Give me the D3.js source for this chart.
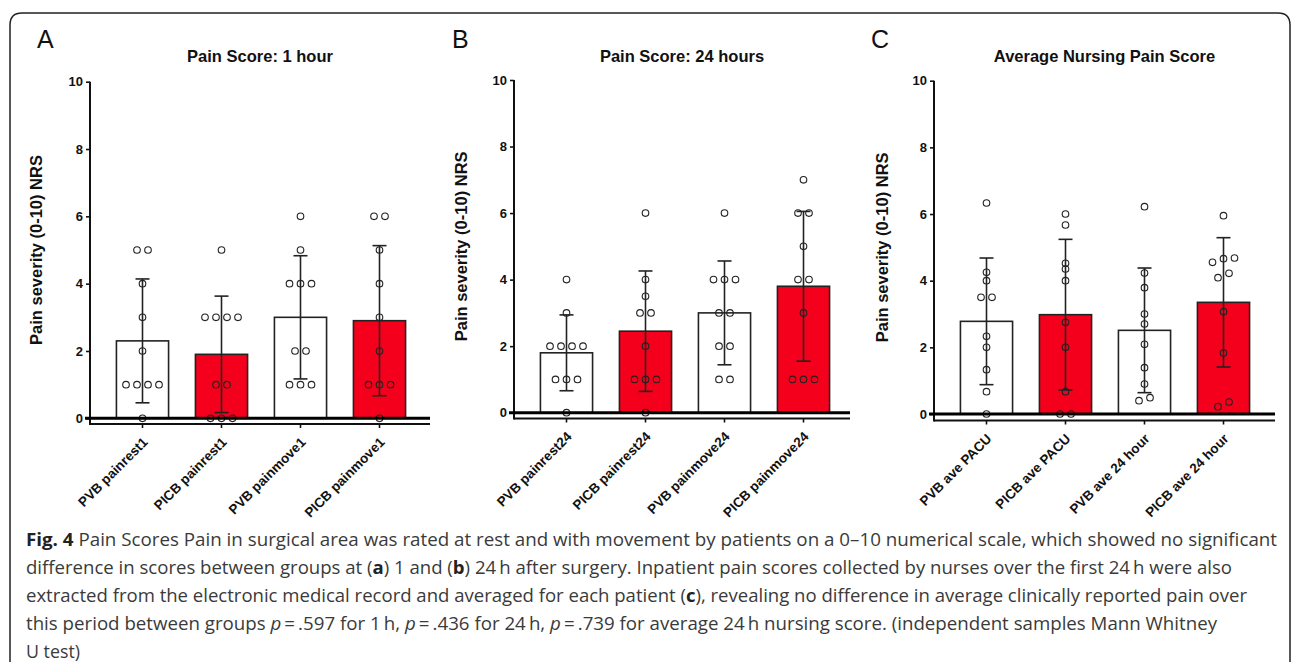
<!DOCTYPE html>
<meta charset="utf-8">
<title>Pain scores</title>
<style>
body { margin: 0; background: #fff; }
svg { display: block; }
.axis-title, .title, .tick-y, .tick-x { font-family: "Liberation Sans", Arial, Helvetica, sans-serif; font-weight: bold; fill: #111; }
.letter { font-family: "Liberation Sans", Arial, Helvetica, sans-serif; fill: #111; }
.caption { font-family: "Open Sans", "Noto Sans", sans-serif; fill: #3a3a3a; }
</style>
<script src="https://d3js.org/d3.v7.min.js"></script>
<body>
<script>
var width = 1292, height = 662;

// ---- data ----
var letters = ["A", "B", "C"];
var titles = ["Pain Score: 1 hour", "Pain Score: 24 hours", "Average Nursing Pain Score"];
var yLabel = "Pain severity (0-10) NRS";
var yTicks = [0, 2, 4, 6, 8, 10];

var catsA = ["PVB painrest1", "PICB painrest1", "PVB painmove1", "PICB painmove1"];
var meanA = [2.3, 1.9, 3.0, 2.9];
var sdA = [1.84, 1.73, 1.83, 2.23];
var ptsA = [
  [5, 5, 4, 3, 2, 1, 1, 1, 1, 0],
  [5, 3, 3, 3, 3, 1, 1, 0, 0, 0],
  [6, 5, 4, 4, 4, 2, 2, 1, 1, 1],
  [6, 6, 5, 4, 3, 2, 1, 1, 1, 0]
];

var catsB = ["PVB painrest24", "PICB painrest24", "PVB painmove24", "PICB painmove24"];
var meanB = [1.8, 2.45, 3.0, 3.8];
var sdB = [1.14, 1.81, 1.56, 2.25];
var ptsB = [
  [4, 3, 2, 2, 2, 2, 1, 1, 1, 0],
  [6, 4, 3.5, 3, 3, 2, 1, 1, 1, 0],
  [6, 4, 4, 4, 3, 3, 2, 2, 1, 1],
  [7, 6, 6, 5, 4, 4, 3, 1, 1, 1]
];

var catsC = ["PVB ave PACU", "PICB ave PACU", "PVB ave 24 hour", "PICB ave 24 hour"];
var meanC = [2.78, 2.98, 2.51, 3.35];
var sdC = [1.9, 2.26, 1.87, 1.94];
var ptsC = [
  [6.33, 4.25, 4.0, 3.5, 3.5, 2.33, 2.0, 1.33, 0.67, 0],
  [6.0, 5.67, 4.52, 4.35, 4.0, 2.75, 2.0, 0.67, 0, 0],
  [6.22, 4.23, 3.79, 3.0, 2.7, 2.09, 1.39, 0.9, 0.49, 0.4],
  [5.95, 4.68, 4.66, 4.55, 4.22, 4.09, 3.07, 1.83, 0.36, 0.22]
];

var barColors = ["#ffffff", "#f5001c", "#ffffff", "#f5001c"];

var captionLines = [
  [["Fig. 4", "b"], [" Pain Scores Pain in surgical area was rated at rest and with movement by patients on a 0\u201310 numerical scale, which showed no significant", ""]],
  [["difference in scores between groups at (", ""], ["a", "b"], [") 1 and (", ""], ["b", "b"], [") 24\u2009h after surgery. Inpatient pain scores collected by nurses over the first 24\u2009h were also", ""]],
  [["extracted from the electronic medical record and averaged for each patient (", ""], ["c", "b"], ["), revealing no difference in average clinically reported pain over", ""]],
  [["this period between groups ", ""], ["p", "i"], ["\u2009=\u2009.597 for 1\u2009h, ", ""], ["p", "i"], ["\u2009=\u2009.436 for 24\u2009h, ", ""], ["p", "i"], ["\u2009=\u2009.739 for average 24\u2009h nursing score. (independent samples Mann Whitney", ""]],
  [["U test)", ""]]
];
var captionWidths = [1251, 1206, 1221, 1191, 54];

// ---- layout ----
var panels = [
  {cats: catsA, mean: meanA, sd: sdA, pts: ptsA, x0: 90, x1: 430, y0: 418.3, y10: 81.7, axisY: 424, letterX: 37, labelX: 36},
  {cats: catsB, mean: meanB, sd: sdB, pts: ptsB, x0: 514, x1: 850, y0: 412.7, y10: 80, axisY: 418.5, letterX: 452, labelX: 461},
  {cats: catsC, mean: meanC, sd: sdC, pts: ptsC, x0: 934, x1: 1275, y0: 414, y10: 80.7, axisY: 420.5, letterX: 871, labelX: 882}
];

var svg = d3.select("body").append("svg")
    .attr("width", width)
    .attr("height", height);

// outer frame
svg.append("path")
    .attr("d", "M10,700 L10,25 Q10,13 22,13 L1278,13 Q1290,13 1290,25 L1290,700")
    .attr("fill", "none")
    .attr("stroke", "#222")
    .attr("stroke-width", 1.5);

// group close values into rows and spread them sideways
function spread(vals, gap) {
  var sorted = vals.slice().sort(d3.ascending);
  var rows = [], out = [];
  sorted.forEach(function(v) {
    var last = rows[rows.length - 1];
    if (last && v - last[0] < 0.15) last.push(v);
    else rows.push([v]);
  });
  rows.forEach(function(r) {
    r.forEach(function(v, i) {
      out.push({v: v, dx: (i - (r.length - 1) / 2) * gap});
    });
  });
  return out;
}

panels.forEach(function(p, k) {
  var g = svg.append("g");
  var y = d3.scaleLinear().domain([0, 10]).range([p.y0, p.y10]);
  var x = d3.scaleBand().domain(p.cats)
      .range([p.x0 + 13, p.x0 + 329])
      .paddingInner(0.34).paddingOuter(0.17);

  g.append("text").attr("class", "letter")
      .attr("x", p.letterX).attr("y", 48)
      .attr("font-size", 25)
      .text(letters[k]);

  g.append("text").attr("class", "title")
      .attr("x", (p.x0 + p.x1) / 2).attr("y", 62)
      .attr("text-anchor", "middle")
      .attr("font-size", 16.5)
      .text(titles[k]);

  g.append("text").attr("class", "axis-title")
      .attr("transform", "translate(" + p.labelX + "," + (p.y0 + p.y10) / 2 + ") rotate(-90)")
      .attr("text-anchor", "middle")
      .attr("dy", "0.35em")
      .attr("font-size", 16.5)
      .text(yLabel);

  // bars
  g.selectAll("rect.bar")
      .data(p.cats)
    .enter().append("rect")
      .attr("class", "bar")
      .attr("x", function(d) { return x(d); })
      .attr("width", x.bandwidth())
      .attr("y", function(d, i) { return y(p.mean[i]); })
      .attr("height", function(d, i) { return y(0) - y(p.mean[i]); })
      .attr("fill", function(d, i) { return barColors[i]; })
      .attr("stroke", "#222")
      .attr("stroke-width", 1.6);

  // error bars
  var eb = g.selectAll("g.err")
      .data(p.cats)
    .enter().append("g")
      .attr("class", "err")
      .attr("stroke", "#222")
      .attr("stroke-width", 1.6);
  eb.append("line")
      .attr("x1", function(d) { return x(d) + x.bandwidth() / 2; })
      .attr("x2", function(d) { return x(d) + x.bandwidth() / 2; })
      .attr("y1", function(d, i) { return y(p.mean[i] - p.sd[i]); })
      .attr("y2", function(d, i) { return y(p.mean[i] + p.sd[i]); });
  [-1, 1].forEach(function(s) {
    eb.append("line")
        .attr("x1", function(d) { return x(d) + x.bandwidth() / 2 - 7; })
        .attr("x2", function(d) { return x(d) + x.bandwidth() / 2 + 7; })
        .attr("y1", function(d, i) { return y(p.mean[i] + s * p.sd[i]); })
        .attr("y2", function(d, i) { return y(p.mean[i] + s * p.sd[i]); });
  });

  // individual points
  p.cats.forEach(function(c, i) {
    var cx = x(c) + x.bandwidth() / 2;
    g.selectAll(null)
        .data(spread(p.pts[i], 11))
      .enter().append("circle")
        .attr("cx", function(d) { return cx + d.dx; })
        .attr("cy", function(d) { return y(d.v); })
        .attr("r", 3.3)
        .attr("fill", "none")
        .attr("stroke", "#222")
        .attr("stroke-width", 1.1);
  });

  // y axis
  var yAxis = d3.axisLeft(y).tickValues(yTicks).tickSize(4).tickPadding(3);
  var ya = g.append("g")
      .attr("transform", "translate(" + p.x0 + ",0)")
      .call(yAxis)
      .attr("font-size", null)
      .attr("font-family", null);
  ya.select(".domain").remove();
  ya.selectAll(".tick line").attr("stroke", "#111").attr("stroke-width", 1.6);
  ya.selectAll(".tick text").attr("class", "tick-y").style("font-size", "13px");
  g.append("line")
      .attr("x1", p.x0).attr("x2", p.x0)
      .attr("y1", y(10)).attr("y2", p.axisY + 1)
      .attr("stroke", "#111").attr("stroke-width", 2);

  // x axis below the zero line
  var xAxis = d3.axisBottom(x).tickSize(4).tickSizeOuter(0).tickFormat("");
  var xa = g.append("g")
      .attr("transform", "translate(0," + p.axisY + ")")
      .call(xAxis);
  xa.select(".domain").remove();
  xa.selectAll(".tick line").attr("stroke", "#111").attr("stroke-width", 1.6);
  g.append("line")
      .attr("x1", p.x0).attr("x2", p.x1)
      .attr("y1", p.axisY).attr("y2", p.axisY)
      .attr("stroke", "#111").attr("stroke-width", 2);

  g.selectAll("text.tick-x")
      .data(p.cats)
    .enter().append("text")
      .attr("class", "tick-x")
      .style("font-size", "13.5px")
      .attr("text-anchor", "end")
      .attr("transform", function(d) {
        return "translate(" + (x(d) + x.bandwidth() / 2 + 6) + "," + (p.axisY + 19) + ") rotate(-45)";
      })
      .text(function(d) { return d; });

  // heavy zero line
  g.append("line")
      .attr("x1", p.x0 - 5).attr("x2", p.x1)
      .attr("y1", y(0)).attr("y2", y(0))
      .attr("stroke", "#000").attr("stroke-width", 3);
});

// caption
captionLines.forEach(function(line, i) {
  var t = svg.append("text")
      .attr("class", "caption")
      .attr("x", 26)
      .attr("y", 546 + i * 28)
      .attr("font-size", 18)
      .attr("textLength", captionWidths[i])
      .attr("lengthAdjust", "spacingAndGlyphs");
  line.forEach(function(part) {
    var s = t.append("tspan").text(part[0]);
    if (part[1] === "b") s.attr("font-weight", "bold").attr("fill", "#222");
    if (part[1] === "i") s.attr("font-style", "italic");
  });
});
</script>
